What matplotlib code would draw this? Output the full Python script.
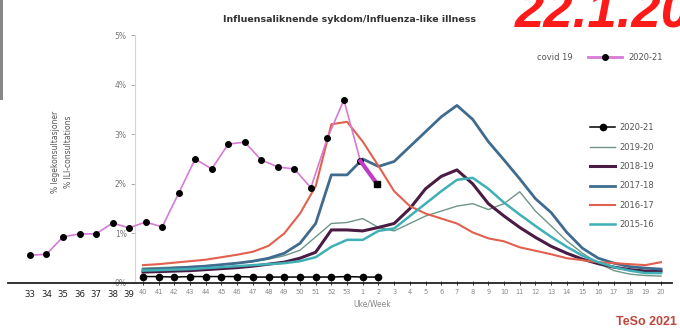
import matplotlib
matplotlib.use("Agg")
import matplotlib.pyplot as plt
from matplotlib.lines import Line2D
from matplotlib.patches import Rectangle

# season weeks shown on the main axis (40..53, 1..20)
weeks = list(range(40, 54)) + list(range(1, 21))

# ILI share in %
ili_2020_21 = [0.13, 0.13, 0.12, 0.13, 0.13, 0.13, 0.13, 0.12, 0.12, 0.12, 0.12, 0.12, 0.12, 0.13, 0.12, 0.12]
ili_2019_20 = [0.30, 0.31, 0.32, 0.33, 0.35, 0.37, 0.40, 0.43, 0.48, 0.55, 0.66, 0.93, 1.20, 1.22,
               1.30, 1.12, 1.05, 1.20, 1.35, 1.45, 1.55, 1.60, 1.48, 1.60, 1.84, 1.45, 1.15, 0.85,
               0.60, 0.40, 0.25, 0.18, 0.15, 0.14]
ili_2018_19 = [0.22, 0.23, 0.24, 0.25, 0.27, 0.29, 0.31, 0.34, 0.38, 0.42, 0.50, 0.62, 1.07, 1.07,
               1.05, 1.12, 1.20, 1.50, 1.90, 2.15, 2.28, 2.00, 1.60, 1.35, 1.12, 0.92, 0.74, 0.60,
               0.48, 0.39, 0.32, 0.27, 0.24, 0.24]
ili_2017_18 = [0.27, 0.28, 0.30, 0.32, 0.34, 0.37, 0.40, 0.44, 0.50, 0.60, 0.80, 1.20, 2.18, 2.18,
               2.50, 2.35, 2.45, 2.75, 3.05, 3.35, 3.58, 3.30, 2.85, 2.48, 2.10, 1.70, 1.42, 1.02,
               0.70, 0.50, 0.40, 0.33, 0.30, 0.28]
ili_2016_17 = [0.36, 0.38, 0.41, 0.44, 0.47, 0.52, 0.57, 0.63, 0.75, 1.00, 1.40, 1.95, 3.20, 3.25,
               2.85, 2.36, 1.85, 1.55, 1.40, 1.30, 1.20, 1.02, 0.90, 0.84, 0.72, 0.65, 0.58, 0.50,
               0.46, 0.42, 0.40, 0.38, 0.36, 0.42]
ili_2015_16 = [0.25, 0.26, 0.27, 0.28, 0.30, 0.32, 0.34, 0.36, 0.38, 0.40, 0.44, 0.52, 0.73, 0.87,
               0.87, 1.05, 1.10, 1.35, 1.60, 1.85, 2.08, 2.12, 1.90, 1.62, 1.38, 1.15, 0.93, 0.73,
               0.55, 0.42, 0.32, 0.25, 0.20, 0.20]

# covid-19 overlay, weeks 33..53 and 1
covid_weeks = list(range(33, 54)) + [1]
covid_vals = [0.56, 0.58, 0.93, 0.99, 0.99, 1.21, 1.11, 1.23, 1.13, 1.81, 2.50, 2.30, 2.80, 2.84,
              2.48, 2.34, 2.30, 1.92, 2.92, 3.69, 2.46, 2.00]
left_weeks = [33, 34, 35, 36, 37, 38, 39]

seasons = ["2020-21", "2019-20", "2018-19", "2017-18", "2016-17", "2015-16"]
colors = ["black", "#6f9488", "#4a1c45", "#3f6b8f", "#e2604e", "#3fb0b6"]
widths = [1.1, 1.0, 2.2, 2.0, 1.5, 1.8]

fig = plt.figure(figsize=(6.8, 3.32), dpi=100)
ax = fig.add_axes([8 / 680, 1 - 283 / 332, 664 / 680, 248 / 332])

xs = list(range(len(weeks)))
series = [ili_2020_21, ili_2019_20, ili_2018_19, ili_2017_18, ili_2016_17, ili_2015_16]
handles = []
for name, vals, c, lw in zip(seasons, series, colors, widths):
    if name == "2020-21":
        h, = ax.plot(xs[:len(vals)], vals, color=c, lw=lw, marker="o", ms=4.5, zorder=5)
    else:
        h, = ax.plot(xs[:len(vals)], vals, color=c, lw=lw, zorder=3)
    handles.append(h)

# covid overlay on its own week scale
ax2 = ax.twiny()
cx = list(range(len(covid_weeks)))
ax2.plot(cx[:-1], covid_vals[:-1], color="#d77ad6", lw=1.2, marker="o", ms=4,
         mfc="black", mec="black", zorder=6)
ax2.plot(cx[-2:], covid_vals[-2:], color="#c13cc4", lw=3, zorder=6)
ax2.plot(cx[-1:], covid_vals[-1:], color="black", marker="s", ms=5, ls="none", zorder=7)
ax2.set_xlim(-1.33, 38.86)
ax2.yaxis.set_visible(False)
ax2.xaxis.set_ticks_position("bottom")
ax2.xaxis.set_label_position("bottom")
ax2.set_xticks(cx[:len(left_weeks)])
ax2.set_xticklabels([str(w) for w in left_weeks])
ax2.tick_params(axis="x", length=0, pad=5, labelsize=6.2, labelcolor="#222222")
for s in ax2.spines.values():
    s.set_visible(False)

ax.set_ylim(0, 5)
ax.set_xlim(-8.6, 33.7)
ax.set_xticks(xs)
ax.set_xticklabels([str(w) for w in weeks])
ax.set_yticks(range(6))
ax.set_yticklabels([f"{v}%" for v in range(6)])
ax.tick_params(axis="x", direction="inout", length=3, width=0.7, color="#333333", pad=3,
               labelsize=4.8, labelcolor="#888888")
ax.tick_params(axis="y", direction="out", length=3, width=0.7, color="#aaaaaa", pad=3,
               labelsize=5.5, labelcolor="#777777")
ax.spines["left"].set_position(("data", -0.5))
ax.spines["left"].set_color("#d5d5d5")
ax.spines["bottom"].set_color("#222222")
ax.spines["bottom"].set_linewidth(1.3)
ax.spines["top"].set_visible(False)
ax.spines["right"].set_visible(False)

ax.legend(handles, seasons, loc="upper left", bbox_to_anchor=(586 / 680, 1 - 119 / 332),
          bbox_transform=fig.transFigure, fontsize=6, frameon=False, handlelength=3,
          labelspacing=1.25, borderpad=0, handletextpad=0.5, labelcolor="#555555")

covid_handle = Line2D([], [], color="#d77ad6", lw=2, marker="o", ms=4, mfc="black", mec="black")
ax2.legend([covid_handle], ["2020-21"], loc="center left", bbox_to_anchor=(584 / 680, 1 - 57 / 332),
           bbox_transform=fig.transFigure, fontsize=6, frameon=False, handlelength=4,
           borderpad=0, handletextpad=0.8, labelcolor="#555555")
fig.text(555 / 680, 1 - 57 / 332, "covid 19", fontsize=6, color="#555555", ha="center", va="center")

fig.text(372 / 680, 1 - 304 / 332, "Uke/Week", fontsize=5.5, color="#888888", ha="center", va="center")
fig.text(350 / 680, 1 - 20 / 332, "Influensaliknende sykdom/Influenza-like illness",
         fontsize=6.8, weight="bold", color="#333333", ha="center", va="center")
fig.text(62 / 680, 1 - 152 / 332, "% legekonsultasjoner\n% ILI-consultations", fontsize=5.5,
         color="#555555", rotation=90, ha="center", va="center", linespacing=1.6)
fig.text(515 / 680, 1 - 27 / 332, "22.1.2021", fontsize=38, color="#ff1a1a", weight="bold",
         style="italic", family="Liberation Sans", ha="left", va="baseline")
fig.text(677 / 680, 1 - 322 / 332, "TeSo 2021", fontsize=9, color="#c0453a", weight="bold",
         family="Liberation Sans", ha="right", va="center")
fig.add_artist(Rectangle((0, 1 - 100 / 332), 3 / 680, 100 / 332, transform=fig.transFigure,
                         color="#888888", lw=0))

fig.savefig("out.png", dpi=100)
